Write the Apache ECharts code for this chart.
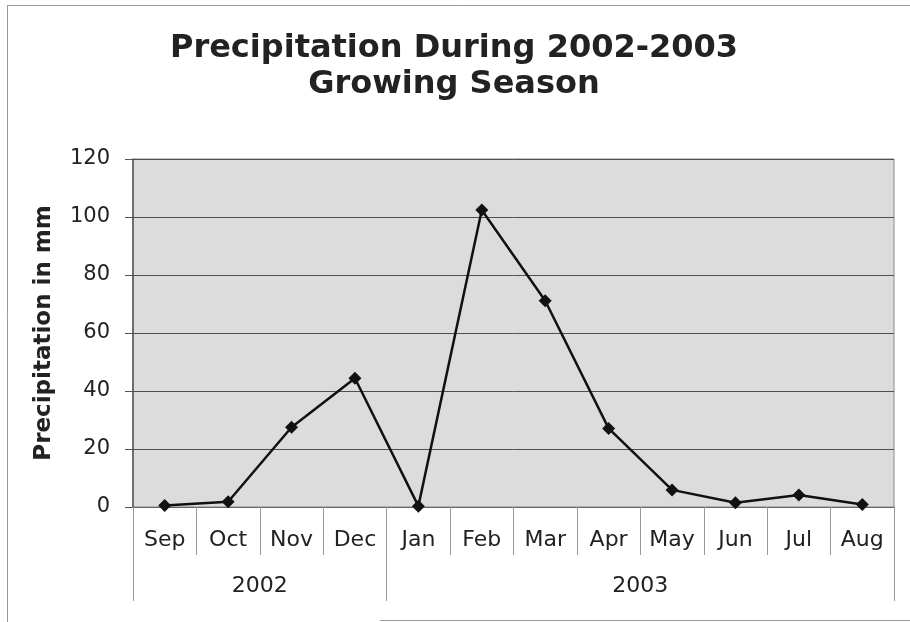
<!DOCTYPE html>
<html>
<head>
<meta charset="utf-8">
<script src="https://cdn.jsdelivr.net/npm/echarts@6/dist/echarts.min.js"></script>
<style>
  html, body { margin: 0; padding: 0; background: #fff; }
  #chart { width: 910px; height: 622px; }
</style>
</head>
<body>
<div id="chart"></div>
<script>
// Monthly precipitation over the 2002-2003 growing season
const months = ['Sep', 'Oct', 'Nov', 'Dec', 'Jan', 'Feb', 'Mar', 'Apr', 'May', 'Jun', 'Jul', 'Aug'];
const precipitation = [0.5, 1.8, 27.5, 44.4, 0.3, 102.4, 71.1, 27.1, 5.9, 1.5, 4.1, 0.9];
const yearLabels = ['2002', '2003'];
// year groups as [start month index, month count]
const yearSpans = [[0, 4], [4, 8]];
const yTicks = [0, 20, 40, 60, 80, 100, 120];

const FONT = '"DejaVu Sans", Verdana, sans-serif';
const TEXT = '#222';

const yearBounds = [0];
yearSpans.forEach(s => yearBounds.push(s[0] + s[1]));
const yearCenters = yearSpans.map(s => s[0] + s[1] / 2);

const chart = echarts.init(document.getElementById('chart'), null, { renderer: 'canvas' });

chart.setOption({
  backgroundColor: '#fff',
  animation: false,
  title: {
    text: 'Precipitation During 2002-2003\nGrowing Season',
    left: 449,
    top: 26,
    textAlign: 'center',
    textStyle: {
      fontFamily: FONT,
      fontWeight: 'bold',
      fontSize: 32,
      lineHeight: 36,
      color: TEXT
    }
  },
  graphic: [
    { type: 'line', shape: { x1: 7.5, y1: 5, x2: 7.5, y2: 622 }, style: { stroke: '#999', lineWidth: 1 } },
    { type: 'line', shape: { x1: 7, y1: 5.5, x2: 910, y2: 5.5 }, style: { stroke: '#999', lineWidth: 1 } },
    { type: 'line', shape: { x1: 380, y1: 620.5, x2: 910, y2: 620.5 }, style: { stroke: '#999', lineWidth: 1 } }
  ],
  grid: {
    left: 133,
    right: 16,
    top: 159,
    bottom: 115,
    show: true,
    backgroundColor: '#dcdcdc',
    borderColor: '#888',
    borderWidth: 1
  },
  xAxis: [
    {
      type: 'category',
      data: months,
      boundaryGap: true,
      position: 'bottom',
      axisLine: { show: true, lineStyle: { color: '#666', width: 1 } },
      axisTick: { show: true, interval: 0, length: 48, lineStyle: { color: '#999', width: 1 } },
      axisLabel: {
        interval: 0,
        margin: 22,
        fontFamily: FONT,
        fontSize: 22,
        color: TEXT
      },
      splitLine: { show: false }
    },
    {
      type: 'value',
      min: 0,
      max: months.length,
      position: 'bottom',
      axisLine: { show: false },
      axisTick: {
        show: true,
        customValues: yearBounds,
        length: 94,
        lineStyle: { color: '#999', width: 1 }
      },
      axisLabel: {
        show: true,
        customValues: yearCenters,
        margin: 68,
        fontFamily: FONT,
        fontSize: 22,
        color: TEXT,
        formatter: v => yearLabels[yearCenters.indexOf(v)]
      },
      splitLine: { show: false }
    }
  ],
  yAxis: {
    type: 'value',
    min: yTicks[0],
    max: yTicks[yTicks.length - 1],
    interval: 20,
    name: 'Precipitation in mm',
    nameLocation: 'middle',
    nameGap: 77,
    nameTextStyle: {
      fontFamily: FONT,
      fontWeight: 'bold',
      fontSize: 23,
      color: TEXT
    },
    axisLine: { show: true, lineStyle: { color: '#555', width: 1.5 } },
    axisTick: { show: true, inside: false, length: 8, lineStyle: { color: '#555', width: 1 } },
    axisLabel: {
      margin: 23,
      fontFamily: FONT,
      fontSize: 21,
      color: TEXT
    },
    splitLine: { show: true, lineStyle: { color: '#505050', width: 1 } }
  },
  series: [
    {
      type: 'line',
      xAxisIndex: 0,
      data: precipitation,
      symbol: 'diamond',
      symbolSize: 13,
      lineStyle: { color: '#111', width: 2.5 },
      itemStyle: { color: '#111' }
    }
  ]
});
</script>
</body>
</html>
